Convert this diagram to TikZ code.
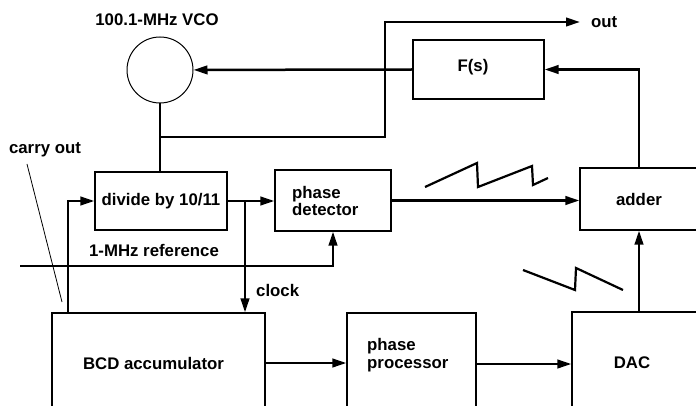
\documentclass[tikz,border=0pt]{standalone}
\usepackage{fontspec}
\setmainfont{Liberation Sans}
\usetikzlibrary{arrows.meta,calc}
\begin{document}
\begin{tikzpicture}[x=1pt,y=-1pt,
  box/.style={draw, line width=1.2pt, rectangle, inner sep=0pt},
  lbl/.style={font=\fontsize{16.8}{17.5}\selectfont\bfseries, inner sep=0pt},
  wire/.style={line width=2.5pt},
  conn/.style={line width=2.5pt, -{Triangle[length=14pt,width=8.5pt]}},
  saw/.style={line width=2.2pt, line join=miter}]
\useasboundingbox (0,0) rectangle (696,406);
\clip (0,0) rectangle (696,406);
% nodes
\node[circle, draw, line width=1pt, minimum size=66pt, inner sep=0pt] (vco) at (160,70) {};
\node[lbl] (vcolbl) at (157,20) {100.1-MHz VCO};
\node[box, minimum width=131pt, minimum height=59pt] (fs) at (478.5,69.5) {};
\node[lbl] (fstext) at (473,67) {F(s)};
\node[box, minimum width=132pt, minimum height=58pt, lbl] (div) at (161,201) {divide by 10/11};
\node[box, minimum width=116pt, minimum height=61pt] (pd) at (333,200.5) {};
\node[lbl, anchor=west, align=left] (pdtext) at (292,201) {phase\\detector};
\node[box, minimum width=118pt, minimum height=62pt, lbl] (adder) at (639,199) {adder};
\node[box, minimum width=213pt, minimum height=100pt] (bcd) at (158.5,363) {};
\node[lbl] (bcdtext) at (153.5,363) {BCD accumulator};
\node[box, minimum width=129pt, minimum height=104pt] (pp) at (411.5,365) {};
\node[lbl, anchor=west, align=left] (pptext) at (367,355) {phase\\processor};
\node[box, minimum width=126pt, minimum height=104pt] (dac) at (635,364) {};
\node[lbl] (dactext) at (632,363) {DAC};
\node[lbl, anchor=west] (outlbl) at (591,22) {out};
\node[lbl, anchor=west] (clocklbl) at (256,290) {clock};
\node[lbl] (reflbl) at (154,250) {1-MHz reference};
\node[lbl] (colbl) at (45,150) {carry out};
% coordinates
\coordinate (j1) at (160,137);
\coordinate (jx) at (385,137);
\coordinate (outend) at (580,22);
\coordinate (j2) at (245,201);
\coordinate (refstart) at (20,266);
\coordinate (co) at (68,313);
\coordinate (ptrA) at (27,164);
\coordinate (ptrB) at (62,302);
% connectors
\draw[wire] (vco.south) -- (vco.south |- div.north);
\draw[conn] (j1) -- (jx) |- (outend);
\draw[conn] (fs.west) -- (vco);
\draw[conn] (adder.north) |- (fs.east);
\draw[conn] (div.east) -- (div.east -| pd.west);
\draw[conn] (j2) -- (j2 |- bcd.north);
\draw[conn] (pd.east) -- (pd.east -| adder.west);
\draw[conn] (refstart) -| (pd.south);
\draw[conn] (co) |- (div.west);
\draw[line width=0.8pt] (ptrA) -- (ptrB);
\draw[conn] (bcd.east) -- (bcd.east -| pp.west);
\draw[conn] (pp.east |- dac.west) -- (dac.west);
\draw[conn] (dac.north -| adder.south) -- (adder.south);
% sawtooth waveforms
\draw[saw] (425,187) -- (477,163) -- (478,187) -- (532,166) -- (533,185) -- (548,178);
\draw[saw] (523,270) -- (575,290) -- (576,268) -- (623,290);
\end{tikzpicture}
\end{document}
